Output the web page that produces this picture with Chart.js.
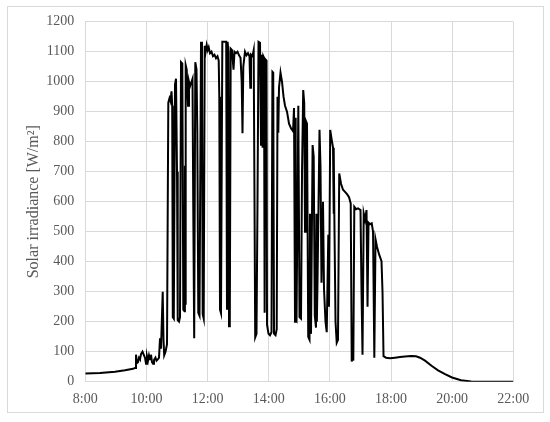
<!DOCTYPE html>
<html>
<head>
<meta charset="utf-8">
<script src="https://cdn.jsdelivr.net/npm/chart.js@4.4.1/dist/chart.umd.min.js"></script>
<style>
  html, body { margin: 0; padding: 0; background: #ffffff; }
  #wrap { position: relative; width: 550px; height: 422px; }
</style>
</head>
<body>
<div id="wrap"><canvas id="c" width="550" height="422"></canvas></div>
<script>
// Time of day (decimal hours) and solar irradiance [W/m²]
const timeHours = [
  8.000, 8.481, 8.972, 9.299, 9.560, 9.626, 9.658, 9.691, 9.724, 9.757,
  9.789, 9.822, 9.871, 9.920, 9.953, 9.986, 10.018, 10.051, 10.084, 10.117,
  10.149, 10.182, 10.215, 10.247, 10.296, 10.329, 10.378, 10.411, 10.444, 10.476,
  10.532, 10.558, 10.581, 10.624, 10.673, 10.715, 10.754, 10.787, 10.820, 10.843,
  10.862, 10.895, 10.934, 10.967, 11.000, 11.023, 11.065, 11.098, 11.131, 11.173,
  11.206, 11.245, 11.258, 11.270, 11.284, 11.317, 11.360, 11.392, 11.425, 11.474, 11.507, 11.530,
  11.562, 11.598, 11.638, 11.664, 11.696, 11.736, 11.785, 11.817, 11.840, 11.873,
  11.906, 11.938, 11.971, 12.004, 12.037, 12.079, 12.128, 12.177, 12.226, 12.275,
  12.324, 12.364, 12.383, 12.406, 12.439, 12.482, 12.554, 12.609, 12.635, 12.655,
  12.681, 12.701, 12.727, 12.756, 12.799, 12.848, 12.881, 12.930, 12.979, 13.028,
  13.077, 13.116, 13.142, 13.168, 13.224, 13.273, 13.322, 13.371, 13.397, 13.420,
  13.469, 13.508, 13.535, 13.558, 13.600, 13.633, 13.666, 13.715, 13.748, 13.774,
  13.800, 13.823, 13.846, 13.866, 13.885, 13.928, 13.944, 13.993, 14.042, 14.091,
  14.121, 14.147, 14.173, 14.222, 14.261, 14.287, 14.313, 14.336, 14.385, 14.434,
  14.484, 14.533, 14.598, 14.664, 14.729, 14.795, 14.827, 14.860, 14.875, 14.888, 14.909, 14.942,
  14.968, 15.007, 15.056, 15.089, 15.128, 15.161, 15.187, 15.213, 15.252, 15.292,
  15.334, 15.350, 15.365, 15.383, 15.435, 15.471, 15.507, 15.546, 15.560, 15.575, 15.595, 15.661, 15.693, 15.726,
  15.775, 15.808, 15.857, 15.897, 15.949, 15.972, 16.011, 16.054, 16.103, 16.120, 16.132, 16.152,
  16.185, 16.224, 16.266, 16.306, 16.365, 16.430, 16.496, 16.561, 16.627, 16.682,
  16.715, 16.744, 16.767, 16.799, 16.855, 16.920, 17.002, 17.035, 17.068, 17.107,
  17.150, 17.199, 17.232, 17.264, 17.313, 17.369, 17.412, 17.454, 17.493, 17.542,
  17.608, 17.689, 17.722, 17.755, 17.837, 17.967, 18.131, 18.294, 18.458, 18.654,
  18.818, 18.949, 19.112, 19.325, 19.538, 19.767, 19.996, 20.290, 20.617, 21.239,
  22.000
];
const irradiance = [
  27, 29, 33, 38, 43, 46, 90, 62, 65, 80,
  75, 92, 100, 88, 80, 60, 85, 70, 88, 75,
  90, 65, 60, 72, 80, 70, 75, 80, 145, 110,
  300, 140, 88, 100, 125, 930, 945, 935, 968, 920,
  215, 210, 990, 1010, 700, 205, 200, 215, 1065, 1060,
  240, 235, 720, 260, 1055, 1040, 920, 1000, 985, 1000, 1010, 600,
  145, 1065, 1040, 830, 230, 220, 1133, 1000, 225, 210,
  1120, 1100, 1122, 1105, 1115, 1095, 1100, 1085, 1090, 1078,
  1085, 1070, 950, 240, 228, 1133, 1133, 1133, 240, 1133,
  1100, 185, 200, 1110, 1105, 1040, 1100, 1095, 1100, 1088,
  1080, 1000, 828, 1050, 1100, 1088, 1095, 1085, 980, 1090,
  1085, 1105, 600, 148, 160, 600, 1133, 1130, 790, 1090,
  780, 1085, 1080, 230, 1075, 1070, 190, 160, 155, 165,
  1033, 1030, 160, 155, 175, 950, 830, 980, 1030, 1000,
  950, 920, 900, 860, 845, 835, 912, 200, 880, 210, 205, 600,
  920, 215, 210, 700, 972, 930, 500, 870, 860, 150,
  140, 560, 170, 160, 789, 750, 220, 180, 560, 200, 330, 840, 720, 330,
  600, 310, 200, 165, 490, 250, 839, 810, 780, 560, 770, 500,
  200, 130, 140, 694, 660, 640, 633, 625, 615, 594,
  67, 100, 70, 583, 575, 578, 572, 300, 90, 561,
  540, 572, 250, 530, 525, 528, 500, 80, 475, 450,
  425, 402, 300, 85, 80, 78, 80, 82, 84, 86,
  85, 80, 70, 53, 38, 25, 14, 5, 1, 0,
  0
];
const xTickHours = [8, 10, 12, 14, 16, 18, 20, 22];
const yTickValues = [0, 100, 200, 300, 400, 500, 600, 700, 800, 900, 1000, 1100, 1200];
const yAxisTitle = 'Solar irradiance [W/m²]';

const points = timeHours.map((t, i) => ({ x: t, y: irradiance[i] }));

const frame = {
  id: 'frame',
  beforeDraw(chart) {
    const ctx = chart.ctx;
    ctx.save();
    ctx.fillStyle = '#ffffff';
    ctx.fillRect(0, 0, chart.width, chart.height);
    ctx.strokeStyle = '#d9d9d9';
    ctx.lineWidth = 1;
    ctx.strokeRect(7.5, 6.5, 536, 406);
    ctx.restore();
  }
};

const serif = "'Liberation Serif', 'Times New Roman', serif";

new Chart(document.getElementById('c'), {
  type: 'line',
  data: {
    datasets: [{
      data: points,
      borderColor: '#000000',
      borderWidth: 2,
      pointRadius: 0,
      tension: 0,
      fill: false
    }]
  },
  options: {
    responsive: false,
    animation: false,
    layout: { padding: { left: 0, top: 21.7, right: 36.7, bottom: 0 } },
    plugins: { legend: { display: false }, tooltip: { enabled: false } },
    scales: {
      x: {
        type: 'linear',
        min: 8, max: 22,
        afterBuildTicks(scale) { scale.ticks = xTickHours.map(v => ({ value: v })); },
        afterFit(scale) { scale.height = 40.3; },
        grid: { color: '#d9d9d9', lineWidth: 1, drawTicks: false },
        border: { color: '#d9d9d9', width: 1 },
        ticks: {
          color: '#595959',
          font: { family: serif, size: 14 },
          padding: 9,
          maxRotation: 0,
          callback: v => v + ':00'
        }
      },
      y: {
        type: 'linear',
        min: 0, max: 1200,
        afterBuildTicks(scale) { scale.ticks = yTickValues.map(v => ({ value: v })); },
        afterFit(scale) { scale.width = 85.3; },
        grid: { color: '#d9d9d9', lineWidth: 1, drawTicks: false },
        border: { color: '#d9d9d9', width: 1 },
        ticks: {
          color: '#595959',
          font: { family: serif, size: 14 },
          padding: 11,
          callback: v => String(v)
        },
        title: {
          display: true,
          text: yAxisTitle,
          color: '#595959',
          font: { family: serif, size: 16 },
          padding: { top: 24.4, bottom: 0 }
        }
      }
    }
  },
  plugins: [frame]
});
</script>
</body>
</html>
